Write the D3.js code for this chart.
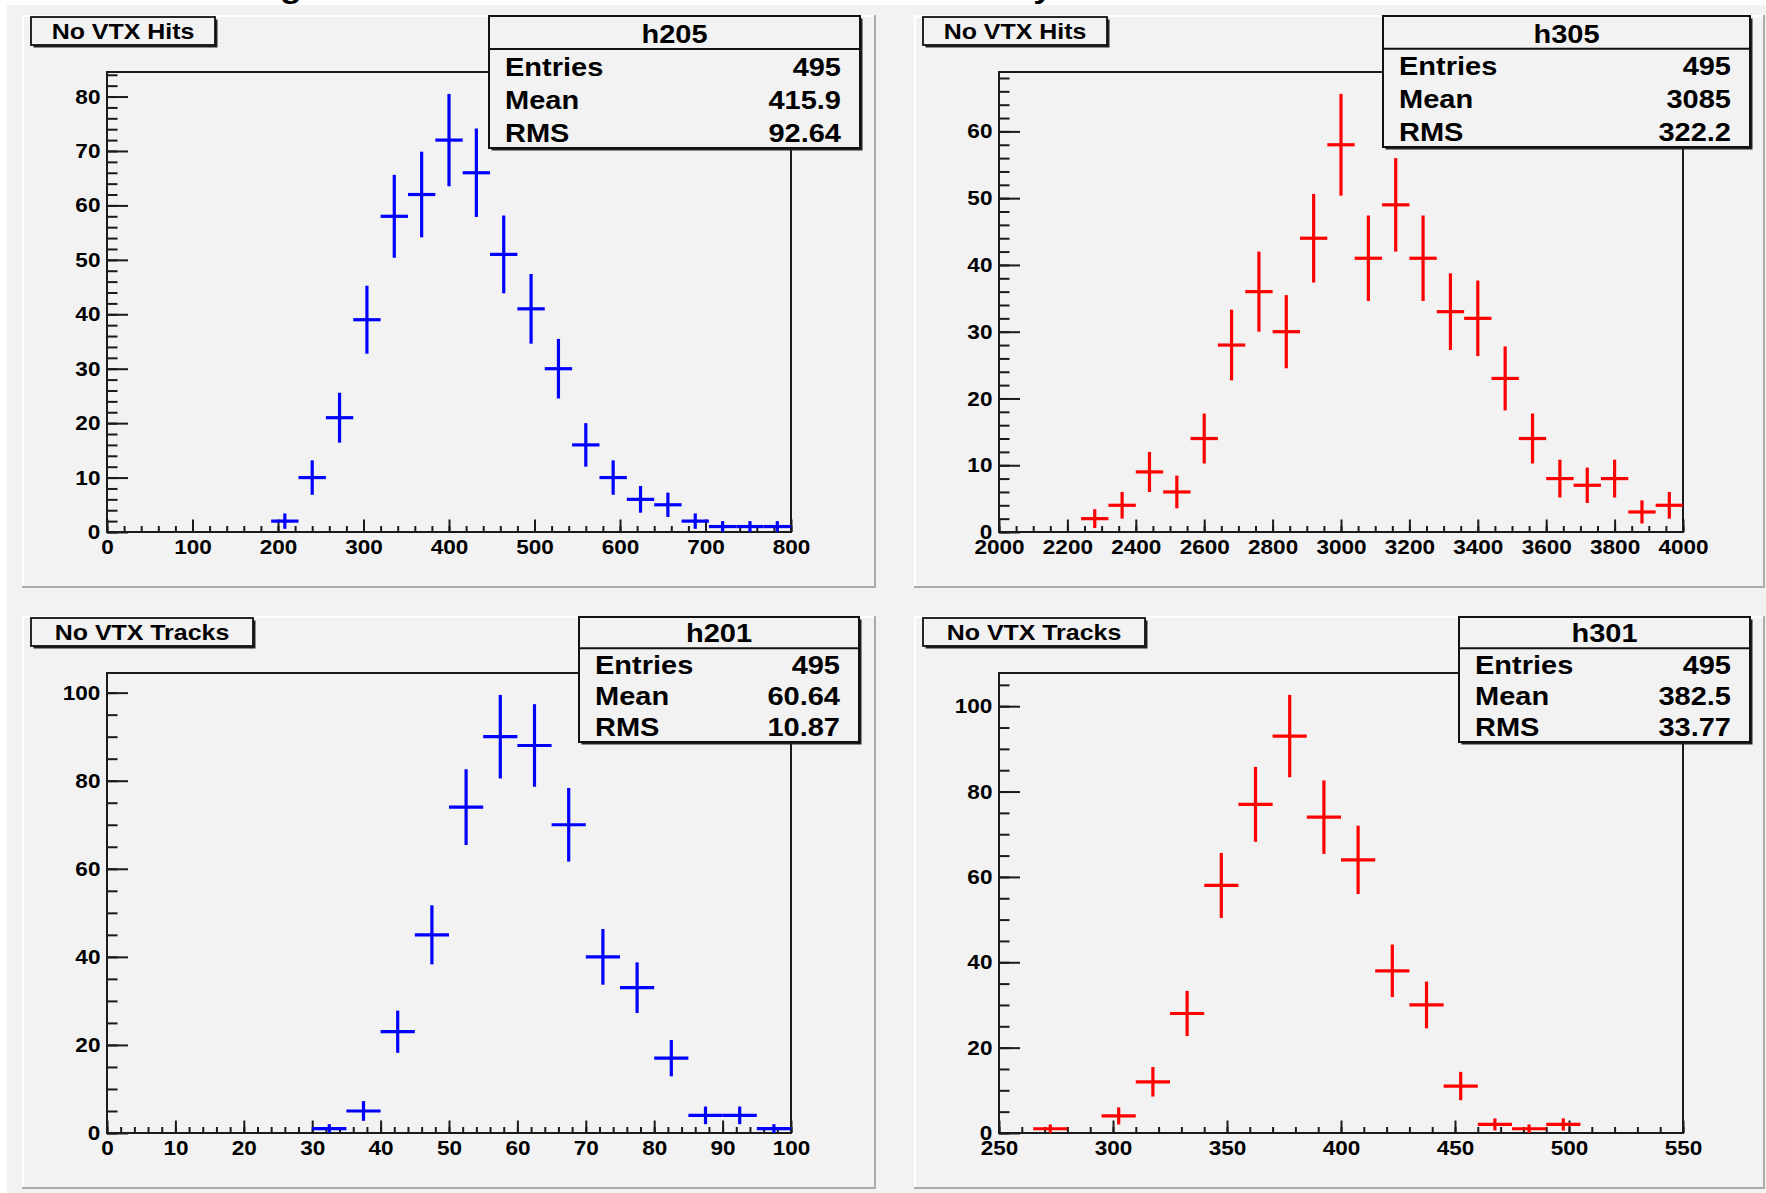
<!DOCTYPE html>
<html>
<head>
<meta charset="utf-8">
<script src="https://cdn.jsdelivr.net/npm/d3@7"></script>
<style>
  body { margin: 0; background: #fff; }
  svg { display: block; }
</style>
</head>
<body>
<script>
// bin contents (empty bins included)
var h205Counts = [0, 0, 0, 0, 0, 0, 2, 10, 21, 39, 58, 62, 72, 66, 51, 41, 30, 16, 10, 6, 5, 2, 1, 1, 1];
var h305Counts = [0, 0, 0, 2, 4, 9, 6, 14, 28, 36, 30, 44, 58, 41, 49, 41, 33, 32, 23, 14, 8, 7, 8, 3, 4];
var h201Counts = [0, 0, 0, 0, 0, 0, 1, 5, 23, 45, 74, 90, 88, 70, 40, 33, 17, 4, 4, 1];
var h301Counts = [0, 1, 0, 4, 12, 28, 58, 77, 93, 74, 64, 38, 30, 11, 2, 1, 2, 0, 0, 0];

// axis ranges
var h205Range = [0, 800];
var h305Range = [2000, 4000];
var h201Range = [0, 100];
var h301Range = [250, 550];

// stats boxes
var statLabels = ["Entries", "Mean", "RMS"];
var h205Stats = ["495", "415.9", "92.64"];
var h305Stats = ["495", "3085", "322.2"];
var h201Stats = ["495", "60.64", "10.87"];
var h301Stats = ["495", "382.5", "33.77"];

var W = 1766, H = 1193;
var SX = 1.16; // the fonts in the picture are drawn a bit wide

var pads = [
  { x: 22, y: 15, w: 854, name: "h205", title: "No VTX Hits", titleW: 184, counts: h205Counts, range: h205Range, stats: h205Stats,
    xMajor: 100, xMinor: 20, yMajor: 10, yMinor: 2, color: "#0000ff", box: [467, 1, 371, 132] },
  { x: 914, y: 15, w: 851, name: "h305", title: "No VTX Hits", titleW: 184, counts: h305Counts, range: h305Range, stats: h305Stats,
    xMajor: 200, xMinor: 50, yMajor: 10, yMinor: 2, color: "#ff0000", box: [469, 1, 367, 131] },
  { x: 22, y: 616, w: 854, name: "h201", title: "No VTX Tracks", titleW: 222, counts: h201Counts, range: h201Range, stats: h201Stats,
    xMajor: 10, xMinor: 2, yMajor: 20, yMinor: 5, color: "#0000ff", box: [557, 1, 280, 125] },
  { x: 914, y: 616, w: 851, name: "h301", title: "No VTX Tracks", titleW: 222, counts: h301Counts, range: h301Range, stats: h301Stats,
    xMajor: 50, xMinor: 10, yMajor: 20, yMinor: 5, color: "#ff0000", box: [545, 1, 291, 125] }
];
var padH = 573;
var frame = { x0: 85, x1: 769, y0: 57, y1: 517 };

var svg = d3.select("body").append("svg")
    .attr("width", W)
    .attr("height", H)
    .attr("font-family", "'Liberation Sans', Arial, Helvetica, sans-serif");

svg.append("rect").attr("width", W).attr("height", H).attr("fill", "#fff");
svg.append("rect").attr("x", 7).attr("y", 5).attr("width", W - 7).attr("height", H - 5).attr("fill", "#f2f2f2");

function label(g, x, y, s, size, anchor, sx) {
  return g.append("text")
    .attr("transform", "translate(" + x + "," + y + ") scale(" + (sx || SX) + ",1)")
    .attr("text-anchor", anchor || "start")
    .attr("font-size", size)
    .attr("font-weight", "bold")
    .attr("fill", "#000")
    .text(s);
}

// canvas title, almost all of it is above the page
label(svg, 291, -2, "g", 30, "middle");
label(svg, 1043, -2, "y", 30, "middle");

pads.forEach(function (p) {
  var g = svg.append("g").attr("transform", "translate(" + p.x + "," + p.y + ")");

  g.append("rect").attr("width", p.w).attr("height", padH).attr("fill", "#f2f2f2");
  g.append("line").attr("x1", 0).attr("y1", 1).attr("x2", p.w).attr("y2", 1).attr("stroke", "#fff").attr("stroke-width", 2);
  g.append("line").attr("x1", 1).attr("y1", 0).attr("x2", 1).attr("y2", padH).attr("stroke", "#fff").attr("stroke-width", 2);
  g.append("line").attr("x1", 0).attr("y1", padH - 1).attr("x2", p.w).attr("y2", padH - 1).attr("stroke", "#ababab").attr("stroke-width", 2);
  g.append("line").attr("x1", p.w - 1).attr("y1", 0).attr("x2", p.w - 1).attr("y2", padH).attr("stroke", "#ababab").attr("stroke-width", 2);

  var n = p.counts.length;
  var bw = (p.range[1] - p.range[0]) / n;
  var bins = p.counts.map(function (c, i) {
    return { lo: p.range[0] + i * bw, hi: p.range[0] + (i + 1) * bw, v: c, e: Math.sqrt(c) };
  });
  var ymax = d3.max(bins, function (d) { return d.v + d.e; }) * 1.05;

  var x = d3.scaleLinear().domain(p.range).range([frame.x0, frame.x1]);
  var y = d3.scaleLinear().domain([0, ymax]).range([frame.y1, frame.y0]);

  // frame
  g.append("rect")
    .attr("x", frame.x0).attr("y", frame.y0)
    .attr("width", frame.x1 - frame.x0).attr("height", frame.y1 - frame.y0)
    .attr("fill", "none").attr("stroke", "#1a1a1a").attr("stroke-width", 2);

  function ticks(lo, hi, step) {
    return d3.range(0, Math.floor((hi - lo) / step + 1e-6) + 1).map(function (k) { return lo + k * step; });
  }

  // x axis
  g.append("g").attr("transform", "translate(0," + frame.y1 + ")")
    .call(d3.axisBottom(x).tickValues(ticks(p.range[0], p.range[1], p.xMinor)).tickSize(-6).tickSizeOuter(0).tickFormat(""))
    .call(function (a) { a.select(".domain").remove(); })
    .attr("color", "#1a1a1a").selectAll("line").attr("stroke-width", 2);

  var xa = g.append("g").attr("transform", "translate(0," + frame.y1 + ")")
    .call(d3.axisBottom(x).tickValues(ticks(p.range[0], p.range[1], p.xMajor)).tickSize(-12.5).tickSizeOuter(0)
      .tickPadding(7).tickFormat(d3.format("d")))
    .call(function (a) { a.select(".domain").remove(); })
    .attr("color", "#1a1a1a").attr("font-size", 20.5).attr("font-family", null);
  xa.selectAll("line").attr("stroke-width", 2);
  xa.selectAll("text").attr("font-weight", "bold").attr("fill", "#000").attr("transform", "scale(1.1,1)");

  // y axis
  g.append("g").attr("transform", "translate(" + frame.x0 + ",0)")
    .call(d3.axisLeft(y).tickValues(ticks(0, ymax, p.yMinor)).tickSize(-10.5).tickSizeOuter(0).tickFormat(""))
    .call(function (a) { a.select(".domain").remove(); })
    .attr("color", "#1a1a1a").selectAll("line").attr("stroke-width", 2);

  var ya = g.append("g").attr("transform", "translate(" + frame.x0 + ",0)")
    .call(d3.axisLeft(y).tickValues(ticks(0, ymax, p.yMajor)).tickSize(-21).tickSizeOuter(0)
      .tickPadding(6).tickFormat(d3.format("d")))
    .call(function (a) { a.select(".domain").remove(); })
    .attr("color", "#1a1a1a").attr("font-size", 20.5).attr("font-family", null);
  ya.selectAll("line").attr("stroke-width", 2);
  ya.selectAll("text").attr("font-weight", "bold").attr("fill", "#000").attr("transform", "scale(1.1,1)");

  // error crosses
  var filled = bins.filter(function (d) { return d.v > 0; });
  var marks = g.append("g").attr("stroke", p.color).attr("stroke-width", 3.2);
  marks.selectAll("line.h").data(filled).enter().append("line").attr("class", "h")
    .attr("x1", function (d) { return x(d.lo); })
    .attr("x2", function (d) { return x(d.hi); })
    .attr("y1", function (d) { return y(d.v); })
    .attr("y2", function (d) { return y(d.v); });
  marks.selectAll("line.v").data(filled).enter().append("line").attr("class", "v")
    .attr("x1", function (d) { return x((d.lo + d.hi) / 2); })
    .attr("x2", function (d) { return x((d.lo + d.hi) / 2); })
    .attr("y1", function (d) { return y(Math.max(0, d.v - d.e)); })
    .attr("y2", function (d) { return y(d.v + d.e); });

  // title box
  var th = 28;
  g.append("rect").attr("x", 11.5).attr("y", 4.5).attr("width", p.titleW).attr("height", th).attr("fill", "#222");
  g.append("rect").attr("x", 9).attr("y", 2).attr("width", p.titleW).attr("height", th)
    .attr("fill", "#f2f2f2").attr("stroke", "#111").attr("stroke-width", 1.8);
  label(g, 9 + p.titleW / 2, 2 + 21.5, p.title, 21.5, "middle");

  // stats box
  var b = p.box, rowH = b[3] / 4;
  g.append("rect").attr("x", b[0] + 2.5).attr("y", b[1] + 2.5).attr("width", b[2]).attr("height", b[3]).attr("fill", "#222");
  g.append("rect").attr("x", b[0]).attr("y", b[1]).attr("width", b[2]).attr("height", b[3])
    .attr("fill", "#f2f2f2").attr("stroke", "#111").attr("stroke-width", 2);
  g.append("line").attr("x1", b[0]).attr("x2", b[0] + b[2]).attr("y1", b[1] + rowH).attr("y2", b[1] + rowH)
    .attr("stroke", "#111").attr("stroke-width", 2);
  label(g, b[0] + b[2] / 2, b[1] + rowH * 0.81, p.name, 25, "middle");
  statLabels.forEach(function (s, i) {
    var by = b[1] + rowH * (i + 1) + rowH * 0.81;
    label(g, b[0] + 16, by, s, 25, "start");
    label(g, b[0] + b[2] - 19, by, p.stats[i], 25, "end");
  });
});
</script>
</body>
</html>
